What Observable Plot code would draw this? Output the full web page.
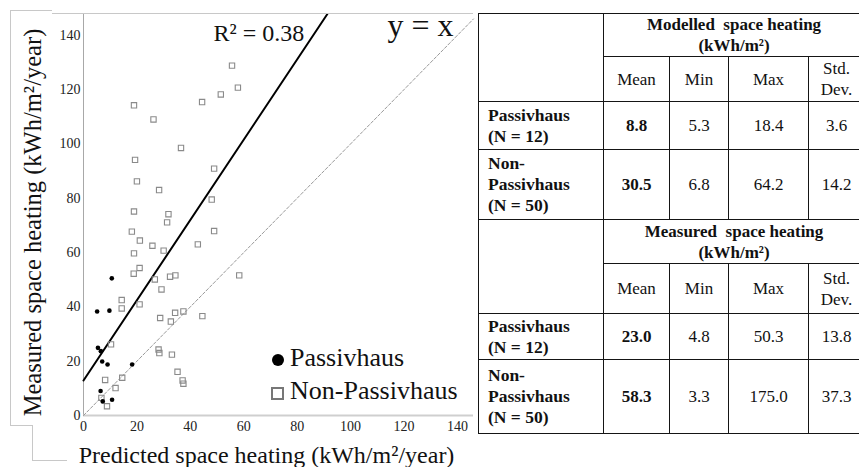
<!DOCTYPE html>
<html>
<head>
<meta charset="utf-8">
<script src="https://cdn.jsdelivr.net/npm/d3@7"></script>
<script src="https://cdn.jsdelivr.net/npm/@observablehq/plot@0.6"></script>
<style>
  html, body { margin:0; padding:0; background:#fff; }
  body { width:859px; height:467px; position:relative; overflow:hidden; font-family:'Liberation Serif', serif; color:#111; }
  #chart { position:absolute; left:0; top:0; }
  .deco { position:absolute; background:#c8c8c8; }
  .lg { position:absolute; left:271px; font-family:'Liberation Serif', serif; font-size:26px; line-height:33px; white-space:nowrap; color:#111; }
  .mk { display:inline-block; vertical-align:middle; margin-right:6px; box-sizing:border-box; }
  table { position:absolute; left:478px; top:13px; width:386px; border-collapse:collapse; table-layout:fixed; font-family:'Liberation Serif', serif; }
  td { border:1.7px solid #151515; padding:0; text-align:center; vertical-align:middle; font-family:'Liberation Serif', serif; font-size:17px; line-height:21px; color:#111; }
  td.lab { text-align:left; padding-left:9px; font-weight:bold; font-size:17.5px; }
  td.hd { font-weight:bold; line-height:21px; }
  td.b { font-weight:bold; }
</style>
</head>
<body>
<div id="chart"></div>
<!-- outer frame decoration -->
<div class="deco" style="left:10px; top:10px; width:1px; height:415px;"></div>
<div class="deco" style="left:10px; top:10px; width:42px; height:1px;"></div>
<div class="deco" style="left:52px; top:13px; width:421px; height:1px;"></div>
<div class="deco" style="left:10px; top:425px; width:22px; height:1px;"></div>
<div class="deco" style="left:32px; top:425px; width:1px; height:36px;"></div>
<div class="deco" style="left:32px; top:460px; width:35px; height:1px;"></div>
<div id="legend"></div>
<div id="tablewrap"></div>
<script>
// ---------- data ----------
const xTicks = [0, 20, 40, 60, 80, 100, 120, 140];
const yTicks = [0, 20, 40, 60, 80, 100, 120, 140];

// Passivhaus (filled circles): predicted, measured
const phX = [10.6, 5.1, 9.7, 5.4, 6.5, 7.0, 9.0, 18.2, 6.4, 7.2, 10.7];
const phY = [50.5, 38.3, 38.6, 24.9, 23.7, 19.9, 18.8, 18.8, 9.0, 5.2, 5.8];

// Non-Passivhaus (open squares): predicted, measured
const npX = [55.6, 57.8, 51.4, 44.4, 18.9, 26.2, 36.5, 19.3, 48.9, 20.0, 28.3, 48.0, 18.9, 31.8, 31.3, 18.1, 48.9, 21.1, 25.8, 42.8, 30.0, 18.9, 21.0, 18.8, 26.7, 32.4, 34.4, 58.3, 29.2, 14.3, 14.3, 21.0, 28.7, 34.3, 37.4, 44.5, 32.7, 10.3, 28.1, 28.4, 33.1, 35.2, 37.1, 37.4, 14.5, 8.1, 12.0, 6.7, 8.8];
const npY = [128.8, 120.7, 118.2, 115.4, 114.2, 109.0, 98.5, 94.1, 90.9, 86.2, 83.0, 79.5, 75.1, 74.1, 71.1, 67.7, 67.9, 64.4, 62.5, 63.0, 60.7, 59.7, 54.3, 52.2, 50.1, 51.1, 51.6, 51.6, 46.4, 42.5, 39.4, 40.9, 35.9, 37.8, 38.3, 36.6, 34.6, 26.2, 24.3, 23.0, 22.4, 16.1, 12.9, 11.7, 13.9, 13.1, 10.1, 6.5, 3.4];

// regression line (R² = 0.38) and y = x line endpoints
const fitX = [0, 91.3];
const fitY = [12.9, 147.8];
const diagX = [0, 146];
const diagY = [0, 146];

const xLabel = "Predicted space heating (kWh/m²/year)";
const yLabel = "Measured space heating (kWh/m²/year)";
const r2Label = "R² = 0.38";
const identityLabel = "y = x";
const legendLabels = ["Passivhaus", "Non-Passivhaus"];

// table data
const groupLabels = ["Passivhaus<br>(N = 12)", "Non-<br>Passivhaus<br>(N = 50)"];
const statLabels = ["Mean", "Min", "Max", "Std.<br>Dev."];
const blockTitles = ["Modelled&nbsp; space heating<br>(kWh/m²)", "Measured&nbsp; space heating<br>(kWh/m²)"];
const modelledStats = [[8.8, 5.3, 18.4, 3.6], [30.5, 6.8, 64.2, 14.2]];
const measuredStats = [[23.0, 4.8, 50.3, 13.8], [58.3, 3.3, 175.0, 37.3]];

// ---------- plot ----------
const ph = phX.map((x, i) => ({x, y: phY[i]}));
const np = npX.map((x, i) => ({x, y: npY[i]}));
const fit = fitX.map((x, i) => ({x, y: fitY[i]}));
const diag = diagX.map((x, i) => ({x, y: diagY[i]}));

const chart = Plot.plot({
  width: 478,
  height: 467,
  marginTop: 13,
  marginLeft: 83,
  marginRight: 5,
  marginBottom: 52,
  style: {fontFamily: "'Liberation Serif', serif", fontSize: "14px", background: "transparent", color: "#222"},
  x: {domain: [0, 146]},
  y: {domain: [0, 148]},
  marks: [
    Plot.ruleX([0], {stroke: "#a8a8a8", strokeWidth: 1}),
    Plot.ruleY([0], {stroke: "#cfcfcf", strokeWidth: 2}),
    Plot.line(diag, {x: "x", y: "y", stroke: "#999", strokeWidth: 1, strokeDasharray: "3,2"}),
    Plot.line(fit, {x: "x", y: "y", stroke: "#000", strokeWidth: 2}),
    Plot.dot(np, {x: "x", y: "y", symbol: "square", r: 3, stroke: "#8a8a8a", strokeWidth: 1.1, fill: "none"}),
    Plot.dot(ph, {x: "x", y: "y", r: 2.3, fill: "#000", stroke: "none"}),
    Plot.axisX({ticks: xTicks, tickSize: 0, tickPadding: 6, label: null, fontSize: 14}),
    Plot.axisY({ticks: yTicks, tickSize: 0, tickPadding: 3, label: null, fontSize: 14}),
    Plot.text([xLabel], {frameAnchor: "bottom", textAnchor: "middle", lineAnchor: "middle", dx: -12, dy: 40, fontSize: 24, fill: "#111"}),
    Plot.text([yLabel], {frameAnchor: "left", textAnchor: "middle", lineAnchor: "middle", rotate: -90, dx: -50, dy: 8, fontSize: 24.5, fill: "#111"}),
    Plot.text([r2Label], {frameAnchor: "top-left", textAnchor: "start", lineAnchor: "top", dx: 130, dy: 10, fontSize: 24, fill: "#111"}),
    Plot.text([identityLabel], {frameAnchor: "top-left", textAnchor: "start", lineAnchor: "top", dx: 304, dy: 0, fontSize: 32, fill: "#111"})
  ]
});
document.getElementById("chart").appendChild(chart);

// ---------- legend ----------
const lg = document.getElementById("legend");
lg.innerHTML =
  `<div class="lg" style="top:341px"><span class="mk" style="width:12px;height:12px;border-radius:50%;background:#000;margin-left:0.5px;margin-right:6.5px"></span>${legendLabels[0]}</div>` +
  `<div class="lg" style="top:374px"><span class="mk" style="width:13px;height:13px;border:2px solid #777;background:#fff"></span>${legendLabels[1]}</div>`;

// ---------- table ----------
const colW = [125, 66, 59, 80, 56];
const rowH = [[42, 45, 48, 70], [44, 50, 46, 74]];
let html = `<table><colgroup>${colW.map(w => `<col style="width:${w}px">`).join("")}</colgroup>`;
[modelledStats, measuredStats].forEach((stats, b) => {
  const h = rowH[b];
  html += `<tr style="height:${h[0]}px"><td rowspan="2"></td><td class="hd" colspan="4">${blockTitles[b]}</td></tr>`;
  html += `<tr style="height:${h[1]}px">${statLabels.map(s => `<td>${s}</td>`).join("")}</tr>`;
  stats.forEach((row, g) => {
    html += `<tr style="height:${h[2 + g]}px"><td class="lab">${groupLabels[g]}</td>` +
      row.map((v, j) => `<td${j === 0 ? ' class="b"' : ''}>${v.toFixed(1)}</td>`).join("") + `</tr>`;
  });
});
html += `</table>`;
document.getElementById("tablewrap").innerHTML = html;
</script>
</body>
</html>
